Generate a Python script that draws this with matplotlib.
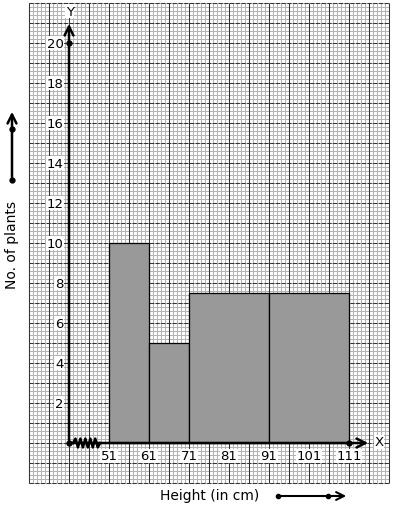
import matplotlib.pyplot as plt
import numpy as np

# class intervals (height in cm) and number of plants
edges = [51, 61, 71, 91, 111]
plants = [10, 5, 7.5, 7.5]
x_ticks = [51, 61, 71, 81, 91, 101, 111]
y_ticks = [2, 4, 6, 8, 10, 12, 14, 16, 18, 20]


def draw_paper(ax):
    # graph paper: fine 1 mm lines, darker lines every 5 mm
    xs = np.arange(31, 122, 1)
    ys = np.arange(-2, 22.01, 0.2)
    ax.vlines(xs, -2, 22, color='#b4b4b4', lw=0.75, zorder=1, snap=True)
    ax.hlines(ys, 31, 121, color='#b4b4b4', lw=0.75, zorder=1, snap=True)
    ax.vlines(np.arange(31, 122, 5), -2, 22, color='#333333', lw=0.75, zorder=1.5, snap=True)
    ax.hlines(np.arange(-2, 23, 1), 31, 121, color='#333333', lw=0.75,
              linestyles=(0, (4, 1.5)), zorder=1.5, snap=True)


def main():
    fig = plt.figure(figsize=(3.94, 5.10), dpi=100)
    ax = fig.add_axes([0, 0, 1, 1])
    ax.set_xlim(23.75, 122.25)
    ax.set_ylim(-3.3, 22.2)
    ax.axis('off')

    draw_paper(ax)

    widths = np.diff(edges)
    ax.bar(edges[:-1], plants, width=widths, align='edge',
           color='#999999', edgecolor='black', lw=0.9, zorder=3)

    # axes with arrows
    ax.annotate('', xy=(41, 21.1), xytext=(41, 0),
                arrowprops=dict(arrowstyle='->', lw=1.8, mutation_scale=16, color='black'), zorder=4)
    ax.annotate('', xy=(116.5, 0), xytext=(41, 0),
                arrowprops=dict(arrowstyle='->', lw=1.8, mutation_scale=16, color='black'), zorder=4)
    ax.plot([41, 41, 111], [0, 20, 0], 'o', color='black', ms=3.5, zorder=5)

    # kink on x axis
    zx = np.linspace(42, 48.8, 12)
    zy = np.array([0] + [0.22, -0.22] * 5 + [0])
    ax.plot(zx, zy, color='black', lw=1.8, zorder=5)

    box = dict(facecolor='white', edgecolor='none', pad=0.5)
    for v in x_ticks:
        ax.text(v, -0.65, str(v), ha='center', va='center', fontsize=9.5, bbox=box, zorder=6)
    for v in y_ticks:
        ax.text(39.6, v, str(v), ha='right', va='center', fontsize=9.5, bbox=box, zorder=6)
    ax.text(41.2, 21.6, 'Y', ha='center', va='center', fontsize=9.5, bbox=box, zorder=6)
    ax.text(118.5, 0.05, 'X', ha='center', va='center', fontsize=9.5, bbox=box, zorder=6)

    # axis titles with arrows
    ax.text(76.25, -2.6, 'Height (in cm)', ha='center', va='center', fontsize=10)
    ax.text(26.75, 9.95, 'No. of plants', ha='center', va='center', fontsize=10, rotation=90)
    ax.annotate('', xy=(111, -2.65), xytext=(93.25, -2.65),
                arrowprops=dict(arrowstyle='->', lw=1.5, mutation_scale=14, color='black'))
    ax.plot([93.25, 105.75], [-2.65, -2.65], 'o', color='black', ms=3)
    ax.annotate('', xy=(26.75, 16.7), xytext=(26.75, 13.15),
                arrowprops=dict(arrowstyle='->', lw=1.8, mutation_scale=16, color='black'))
    ax.plot([26.75, 26.75], [13.15, 15.7], 'o', color='black', ms=3.5)

    plt.savefig("out.png", dpi=100)


if __name__ == "__main__":
    main()
